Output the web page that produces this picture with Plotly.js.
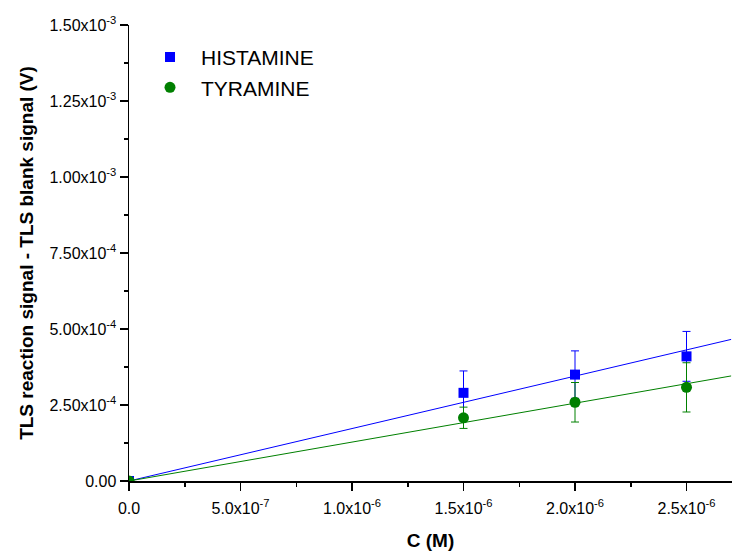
<!DOCTYPE html>
<html>
<head>
<meta charset="utf-8">
<script src="https://cdn.plot.ly/plotly-3.0.1.min.js"></script>
<style>html,body{margin:0;padding:0;background:#fff;}#chart{width:732px;height:553px;}</style>
</head>
<body>
<div id="chart"></div>
<script>
// Data
const concentrations = [0, 1.5e-6, 2.0e-6, 2.5e-6];
const histamine = [0, 2.9e-4, 3.5e-4, 4.1e-4];
const histamineErr = [0, 0.72e-4, 0.78e-4, 0.82e-4];
const tyramine = [0, 2.08e-4, 2.59e-4, 3.08e-4];
const tyramineErr = [0, 0.35e-4, 0.65e-4, 0.81e-4];
// Linear fits through origin (slope, V/M)
const histamineSlope = 172.5;
const tyramineSlope = 128.0;
const fitX = [0, 2.7e-6];

const xTickVals = [0, 5e-7, 1e-6, 1.5e-6, 2e-6, 2.5e-6];
const xTickText = ['0.0', '5.0x10<sup>-7</sup>', '1.0x10<sup>-6</sup>', '1.5x10<sup>-6</sup>', '2.0x10<sup>-6</sup>', '2.5x10<sup>-6</sup>'];
const yTickVals = [0, 2.5e-4, 5e-4, 7.5e-4, 1e-3, 1.25e-3, 1.5e-3];
const yTickText = ['0.00', '2.50x10<sup>-4</sup>', '5.00x10<sup>-4</sup>', '7.50x10<sup>-4</sup>', '1.00x10<sup>-3</sup>', '1.25x10<sup>-3</sup>', '1.50x10<sup>-3</sup>'];

const blue = '#0000ff';
const green = '#008000';
const FONT = 'Liberation Sans, Arial, sans-serif';

const traces = [
  {x: fitX, y: fitX.map(v => v * histamineSlope), mode: 'lines', line: {color: blue, width: 1}, showlegend: false, hoverinfo: 'skip'},
  {x: fitX, y: fitX.map(v => v * tyramineSlope), mode: 'lines', line: {color: green, width: 1}, showlegend: false, hoverinfo: 'skip'},
  {x: concentrations, y: histamine, name: 'HISTAMINE', mode: 'markers', type: 'scatter',
   marker: {symbol: 'square', size: 10, color: blue},
   error_y: {type: 'data', array: histamineErr, visible: true, color: blue, thickness: 1, width: 4}},
  {x: concentrations, y: tyramine, name: 'TYRAMINE', mode: 'markers', type: 'scatter',
   marker: {symbol: 'circle', size: 11, color: green},
   error_y: {type: 'data', array: tyramineErr, visible: true, color: green, thickness: 1, width: 4}}
];

const axisCommon = {
  showgrid: false, zeroline: false, showline: true, linecolor: '#000', linewidth: 1.5,
  ticks: 'outside', ticklen: 8, tickwidth: 1.5, tickcolor: '#000',
  tickfont: {family: FONT, size: 16, color: '#000'},
  tickmode: 'array'
};

const layout = {
  width: 732, height: 553,
  margin: {l: 129, r: 0, t: 25, b: 72},
  paper_bgcolor: '#fff', plot_bgcolor: '#fff',
  showlegend: true,
  legend: {x: 0.0166, y: 0.974, xanchor: 'left', yanchor: 'top', bgcolor: 'rgba(0,0,0,0)',
    font: {family: FONT, size: 21, color: '#000'}, tracegroupgap: 0, itemwidth: 52},
  xaxis: Object.assign({}, axisCommon, {
    range: [0, 2.704e-6], tickvals: xTickVals, ticktext: xTickText, ticklabelstandoff: 4,
    minor: {tickvals: [2.5e-7, 7.5e-7, 1.25e-6, 1.75e-6, 2.25e-6], ticks: 'outside', ticklen: 4, tickwidth: 1.5, tickcolor: '#000'},
    title: {text: 'C (M)', font: {family: FONT, size: 19, color: '#000', weight: 'bold'}, standoff: 18}
  }),
  yaxis: Object.assign({}, axisCommon, {
    range: [0, 1.5e-3], tickvals: yTickVals, ticktext: yTickText,
    minor: {tickvals: [1.25e-4, 3.75e-4, 6.25e-4, 8.75e-4, 1.125e-3, 1.375e-3], ticks: 'outside', ticklen: 4, tickwidth: 1.5, tickcolor: '#000'},
    title: {text: 'TLS reaction signal - TLS blank signal (V)', font: {family: FONT, size: 19, color: '#000', weight: 'bold'}, standoff: 11}
  })
};

Plotly.newPlot('chart', traces, layout, {displayModeBar: false, staticPlot: true});
</script>
</body>
</html>
